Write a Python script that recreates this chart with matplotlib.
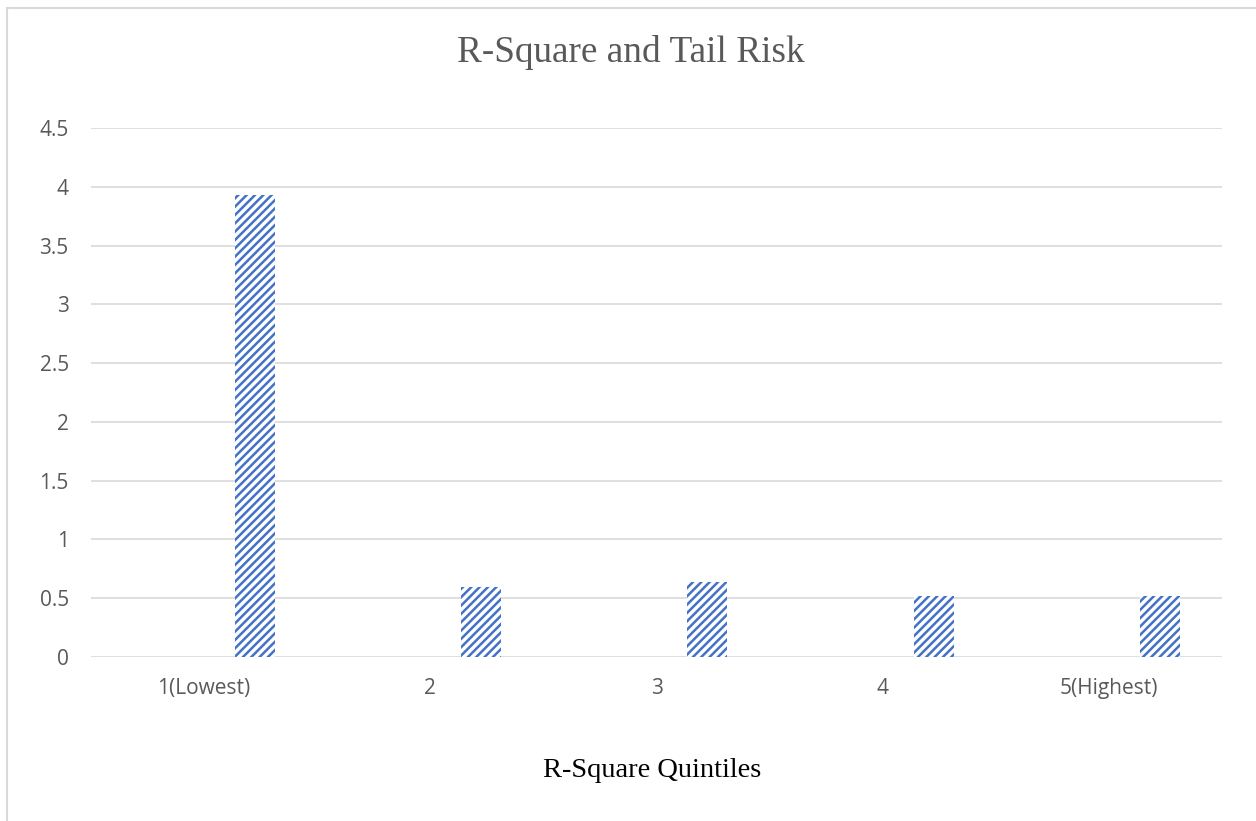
import matplotlib.pyplot as plt
import matplotlib.patches as mpatches
import numpy as np

# Tail-risk measure by R-square quintile
quintiles = ["1(Lowest)", "2", "3", "4", "5(Highest)"]
tail_risk = [3.93, 0.595, 0.64, 0.523, 0.52]
y_ticks = [0, 0.5, 1, 1.5, 2, 2.5, 3, 3.5, 4, 4.5]
y_tick_labels = ["0", "0.5", "1", "1.5", "2", "2.5", "3", "3.5", "4", "4.5"]

BLUE = "#4472C4"
GRID = "#D9D9D9"
TEXT = "#595959"

plt.rcParams["hatch.linewidth"] = 1.8

W, H = 1256, 821
fig = plt.figure(figsize=(W / 100, H / 100), dpi=100)
ax = fig.add_axes([91 / W, 1 - 657 / H, (1222 - 91) / W, (657 - 128) / H])

x = np.arange(len(quintiles))
ax.bar(x + 0.225, tail_risk, width=0.177, color="white",
       edgecolor=BLUE, hatch="////", linewidth=0, zorder=3)

ax.set_xlim(-0.5, len(quintiles) - 0.5)
ax.set_ylim(0, 4.5)
ax.set_yticks(y_ticks)
ax.set_yticklabels(y_tick_labels)
ax.set_xticks(x)
ax.set_xticklabels(quintiles)
ax.yaxis.grid(True, color=GRID, lw=1.2, zorder=0)
ax.set_axisbelow(True)
for s in ax.spines.values():
    s.set_visible(False)
ax.tick_params(length=0, labelsize=15, labelcolor=TEXT)
ax.tick_params(axis="y", pad=16)
ax.tick_params(axis="x", pad=15)
for lab in ax.get_xticklabels() + ax.get_yticklabels():
    lab.set_family("Open Sans")

fig.text(631 / W, 1 - 52 / H, "R-Square and Tail Risk", ha="center", va="center",
         family="Liberation Serif", fontsize=26.8, color=TEXT)
fig.text(652 / W, 1 - 770 / H, "R-Square Quintiles", ha="center", va="center",
         family="Liberation Serif", fontsize=20.5, color="black")

# chart frame
fig.patches.append(mpatches.Rectangle((7 / W, -0.1), 1.2, 1 - 8 / H + 0.1,
                                      transform=fig.transFigure, fill=False,
                                      edgecolor=GRID, lw=1.5))

fig.savefig("out.png", dpi=100, facecolor="white")
